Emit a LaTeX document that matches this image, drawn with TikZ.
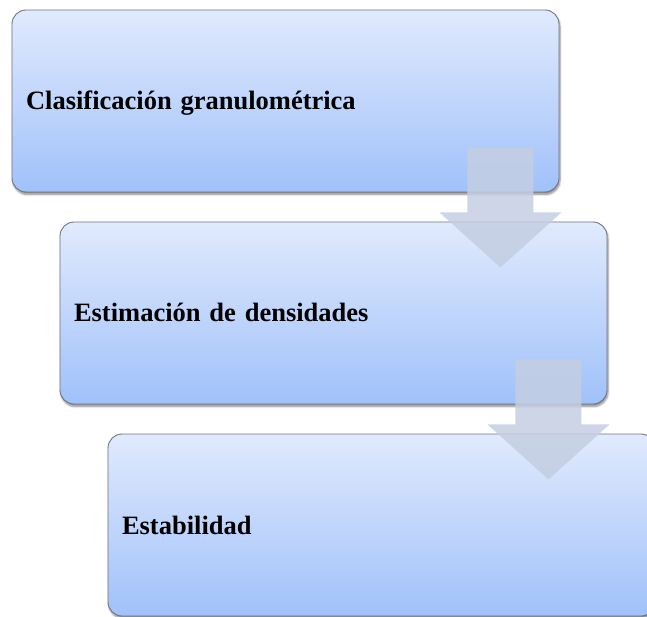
\documentclass[tikz,border=0pt]{standalone}
\usepackage{fontspec}
\setmainfont{Liberation Serif}
\usetikzlibrary{calc,positioning,shadows.blur}
\definecolor{boxtop}{RGB}{225,234,253}
\definecolor{boxbottom}{RGB}{160,193,250}
\definecolor{boxline}{RGB}{112,116,126}
\definecolor{arrowfill}{RGB}{196,206,226}
\tikzset{
  paso/.style={rectangle, rounded corners=14pt, draw=boxline, line width=0.9pt,
    top color=boxtop, bottom color=boxbottom,
    minimum width=547pt, minimum height=182pt, text width=519pt,
    inner xsep=14pt, align=left, text height=18pt, text depth=0pt,
    font=\fontsize{26.5}{30}\selectfont\bfseries,
    blur shadow={shadow xshift=1pt, shadow yshift=-2.5pt, shadow blur steps=6, shadow opacity=45}},
  flecha/.style={fill=arrowfill, fill opacity=0.85}
}
\begin{document}
\begin{tikzpicture}[x=1pt,y=1pt,line cap=round,line join=round]
  \path[use as bounding box,clip] (0,0) rectangle (647,616);
  % boxes
  \node[paso] (clasif) at (285.5,515) {Clasificación granulométrica};
  \node[paso] (dens) at (333.5,303) {Estimación de densidades};
  \node[paso] (estab) at (381.5,91) {Estabilidad};
  % arrows
  \coordinate (a1) at ($(clasif.south east)+(-92,45)$);
  \coordinate (a2) at ($(dens.south east)+(-92,45)$);
  \fill[flecha] (a1) -- ++(66,0) -- ++(0,-65) -- ++(28,0) -- ++(-61,-55)
    -- ++(-61,55) -- ++(28,0) -- cycle;
  \fill[flecha] (a2) -- ++(66,0) -- ++(0,-65) -- ++(28,0) -- ++(-61,-55)
    -- ++(-61,55) -- ++(28,0) -- cycle;
\end{tikzpicture}
\end{document}
